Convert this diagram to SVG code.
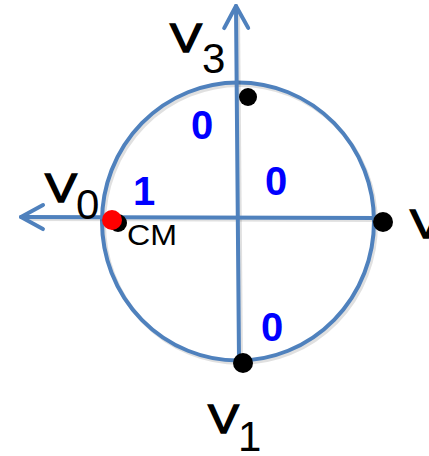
<svg xmlns="http://www.w3.org/2000/svg" width="429" height="456" viewBox="0 0 429 456">
<style>
.ax{stroke:#4f81bd;stroke-width:4;fill:none;stroke-linecap:round}
.sh{stroke:#000;stroke-opacity:0.12;stroke-width:4;fill:none}
.v{font-family:"Liberation Sans",Arial,sans-serif;font-size:40px;fill:#000;stroke:#000;stroke-width:1.4}
.sub{font-family:"Liberation Sans",Arial,sans-serif;font-size:42px;fill:#000}
.cm{font-family:"Liberation Sans",Arial,sans-serif;font-size:29px;fill:#000}
.w{font-family:"Liberation Sans",Arial,sans-serif;font-size:40px;font-weight:bold;fill:#0000ff}
</style>
<defs>
<marker id="arr" markerUnits="userSpaceOnUse" markerWidth="30" markerHeight="32" viewBox="0 0 30 32" refX="26" refY="16" orient="auto">
<path d="M4,4 L26,16 L4,28" fill="none" stroke="#4f81bd" stroke-width="4" stroke-linecap="round" stroke-linejoin="round"/>
</marker>
</defs>
<g id="circle">
<ellipse cx="240" cy="224" rx="136" ry="139" class="sh"/>
<ellipse cx="238" cy="221.5" rx="136" ry="139" class="ax"/>
</g>
<g id="connectors">
<line x1="241" y1="362" x2="238" y2="10" class="sh"/>
<line x1="378" y1="220" x2="26" y2="219" class="sh"/>
<line x1="239" y1="360" x2="236" y2="6" class="ax" marker-end="url(#arr)"/>
<line x1="378" y1="218" x2="21" y2="217" class="ax" marker-end="url(#arr)"/>
</g>
<g id="v3">
<circle cx="248" cy="97" r="9" fill="#000"/>
<text x="170" y="52" class="v" textLength="32" lengthAdjust="spacingAndGlyphs">V</text>
<text x="202" y="73" class="sub">3</text>
</g>
<g id="v2">
<circle cx="383" cy="222" r="10" fill="#000"/>
<text x="410" y="238" class="v" textLength="32" lengthAdjust="spacingAndGlyphs">V</text>
</g>
<g id="v1">
<circle cx="243" cy="363" r="10" fill="#000"/>
<text x="208" y="433" class="v" textLength="31" lengthAdjust="spacingAndGlyphs">V</text>
<text x="238" y="451" class="sub">1</text>
</g>
<g id="v0">
<circle cx="118" cy="223" r="9" fill="#000"/>
<circle cx="112" cy="220" r="10" fill="#ff0000"/>
<text x="45" y="202" class="v" textLength="32" lengthAdjust="spacingAndGlyphs">V</text>
<text x="76" y="219" class="sub">0</text>
<text x="127" y="245" class="cm" textLength="50" lengthAdjust="spacingAndGlyphs">CM</text>
</g>
<g id="weights">
<text x="133" y="205" class="w">1</text>
<text x="191" y="139" class="w">0</text>
<text x="265" y="195" class="w">0</text>
<text x="261" y="341" class="w">0</text>
</g>
</svg>
